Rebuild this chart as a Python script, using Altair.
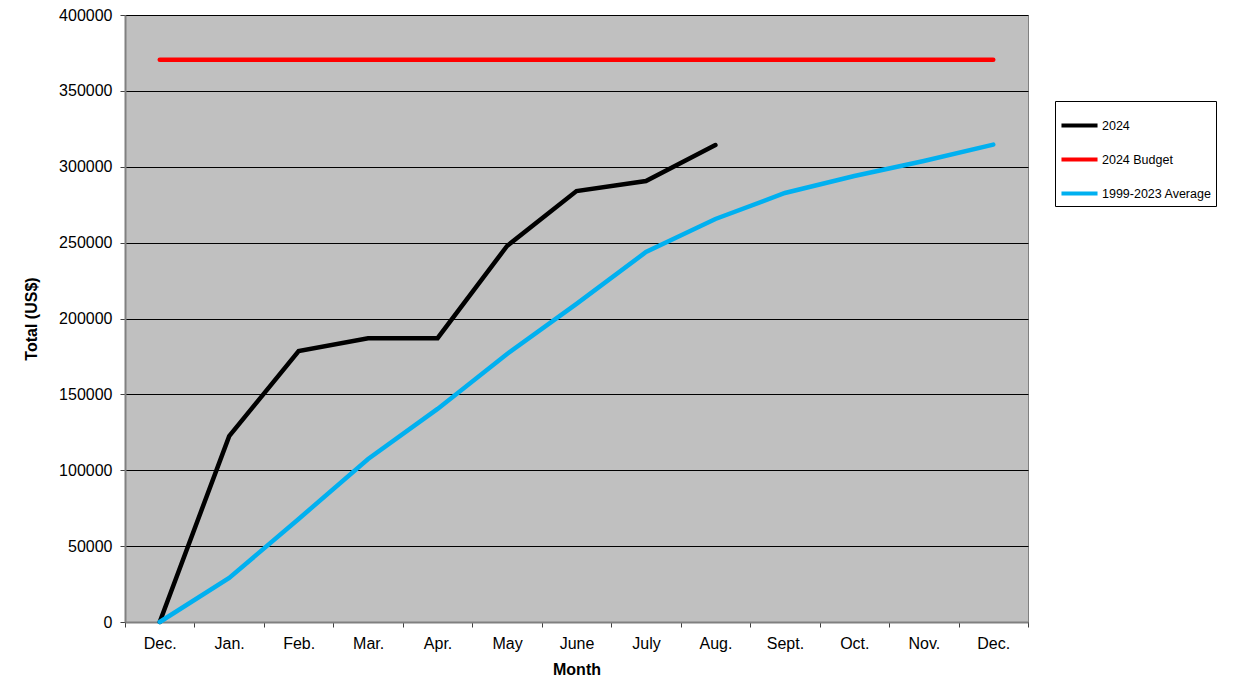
import altair as alt
import pandas as pd

months = ["Dec.", "Jan.", "Feb.", "Mar.", "Apr.", "May", "June", "July", "Aug.",
          "Sept.", "Oct.", "Nov.", "Dec."]
y2024 = [0, 122500, 178600, 187000, 187000, 247800, 284000, 290600, 314300]
budget = [370500] * 13
average = [0, 29000, 67900, 107400, 140400, 176600, 209600, 243800, 265600,
           282700, 293900, 303800, 314600]
series_names = ["2024", "2024 Budget", "1999-2023 Average"]
series_colors = ["#000000", "#FF0000", "#00B0F0"]

rows = []
for name, vals in zip(series_names, [y2024, budget, average]):
    for i, v in enumerate(vals):
        rows.append({"idx": i, "value": v, "series": name})
df = pd.DataFrame(rows)

label_expr = "[" + ",".join("'%s'" % m for m in months) + "][datum.value]"
FONT = "Liberation Sans"

chart = alt.Chart(df).mark_line(strokeWidth=4.5, strokeCap="round").encode(
    x=alt.X("idx:O", title="Month",
            scale=alt.Scale(type="band", paddingInner=0, paddingOuter=0),
            axis=alt.Axis(labelExpr=label_expr, labelAngle=0, tickBand="extent",
                          grid=False, labelFontSize=16, labelColor="#000000",
                          titleFontSize=16, titleFontWeight="bold", titleColor="#000000",
                          labelPadding=8, titlePadding=10,
                          domainColor="#808080", domainWidth=2,
                          tickColor="#404040", tickSize=5, labelFont=FONT, titleFont=FONT)),
    y=alt.Y("value:Q", title="Total (US$)",
            scale=alt.Scale(domain=[0, 400000], nice=False),
            axis=alt.Axis(values=[0, 50000, 100000, 150000, 200000, 250000, 300000, 350000, 400000],
                          format="d", gridColor="#000000", gridWidth=1, gridOpacity=1,
                          labelFontSize=16, labelColor="#000000", labelPadding=8,
                          titleFontSize=16, titleFontWeight="bold", titleColor="#000000",
                          titlePadding=19, domainColor="#808080", domainWidth=2,
                          tickColor="#404040", tickSize=5, labelFont=FONT, titleFont=FONT)),
    color=alt.Color("series:N", sort=series_names,
                    scale=alt.Scale(domain=series_names, range=series_colors),
                    legend=alt.Legend(title=None, orient="none", legendX=930, legendY=86,
                                      fillColor="#FFFFFF", strokeColor="#000000", padding=4,
                                      symbolType="stroke", symbolStrokeWidth=4, symbolSize=1300,
                                      labelFontSize=12.5, labelFont=FONT, labelColor="#000000",
                                      rowPadding=5, labelOffset=2, labelLimit=300)),
    order=alt.Order("idx:Q"),
).properties(
    width=903, height=607,
    autosize=alt.AutoSizeParams(type="none"),
    padding={"left": 117, "top": 7, "right": 198, "bottom": 56},
).configure_view(fill="#C0C0C0", stroke="#808080", strokeWidth=1)

chart.save("out.html", embed_options={"renderer": "svg", "actions": False})
